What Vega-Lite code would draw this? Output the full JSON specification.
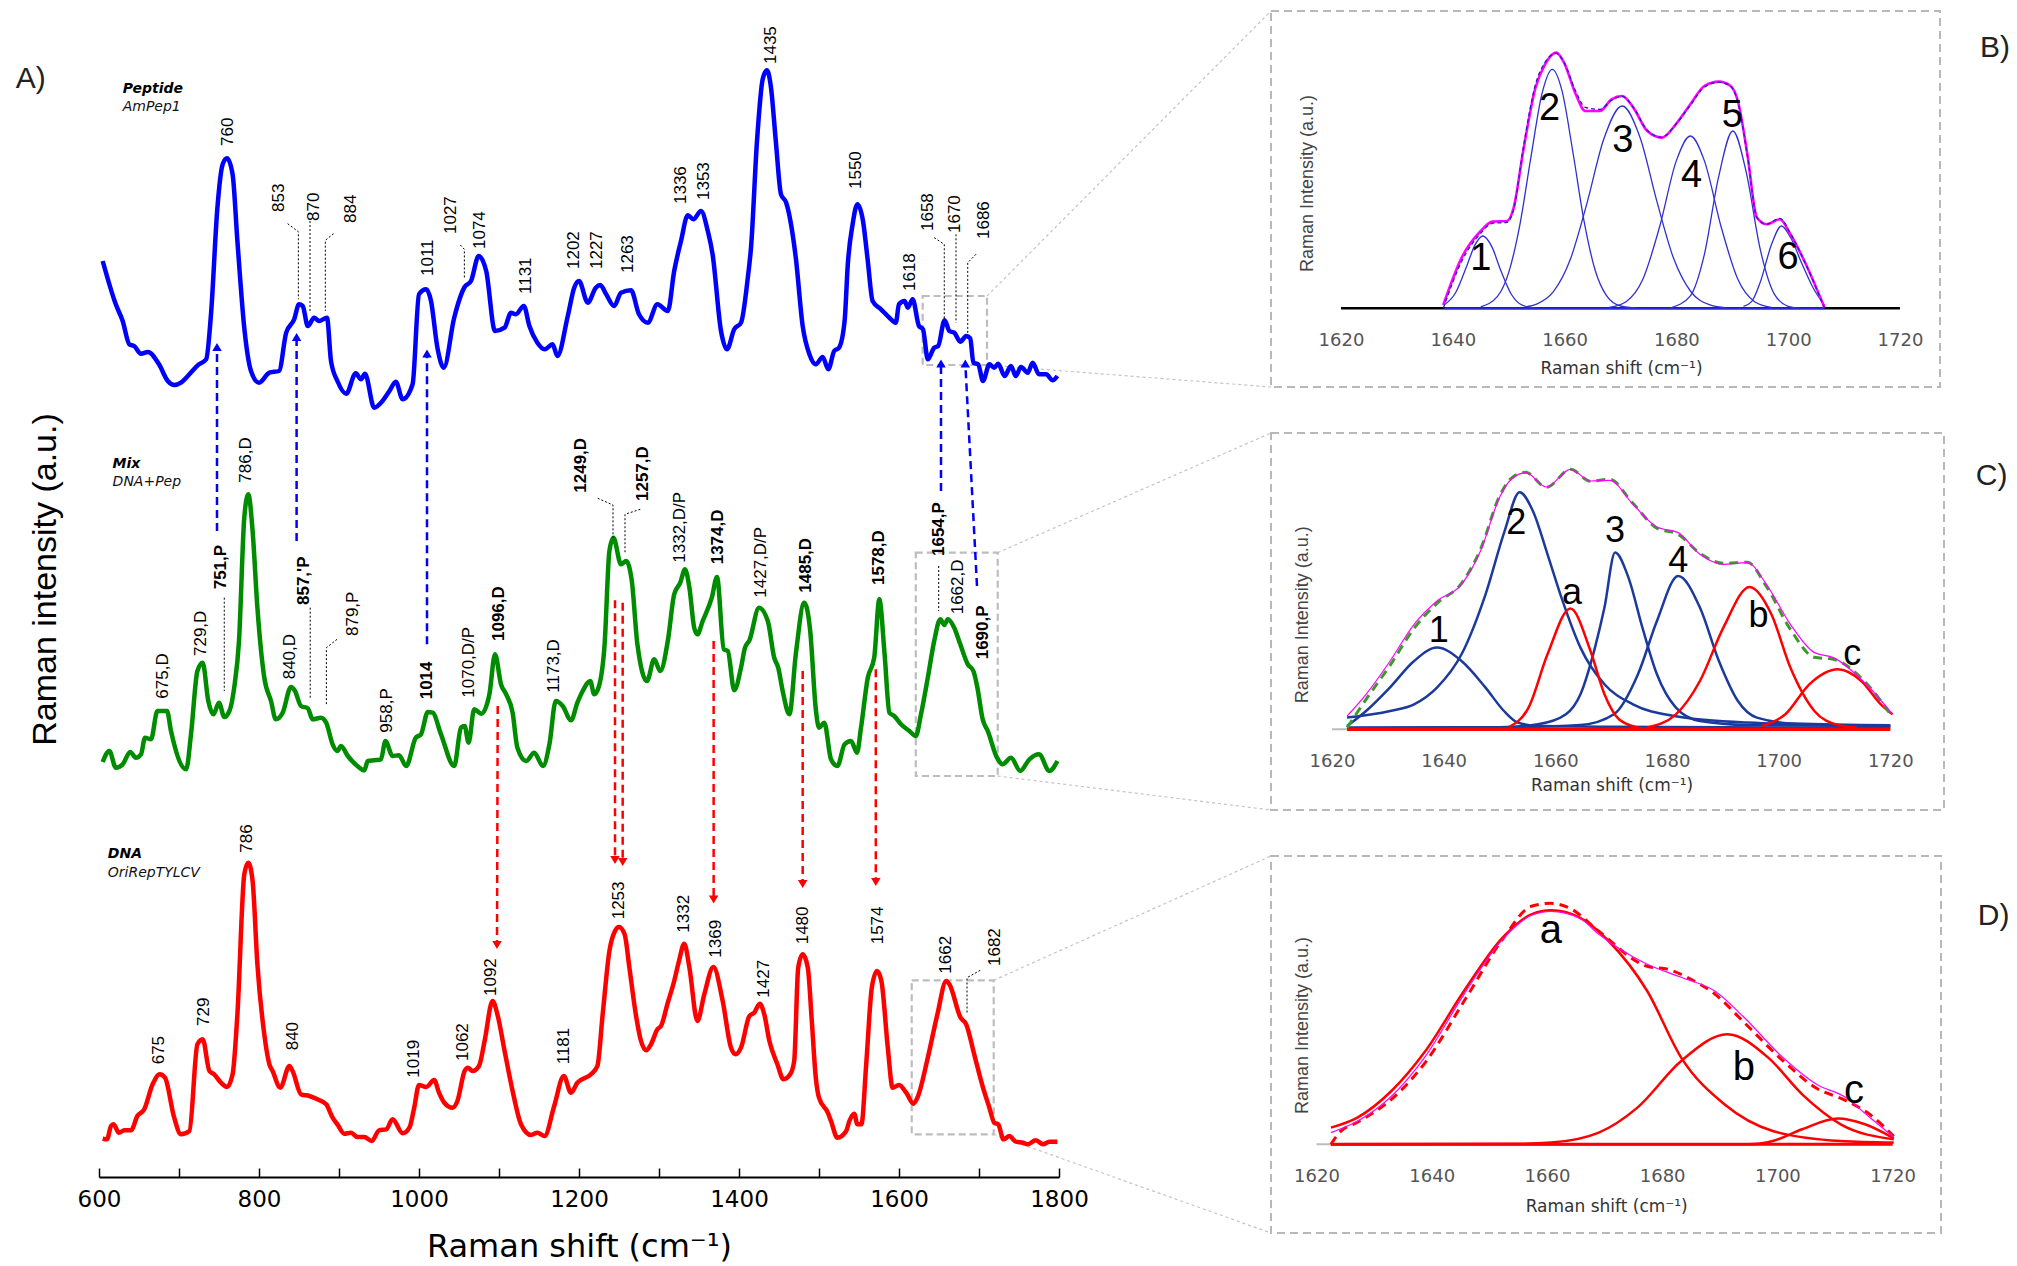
{
"$schema": "https://vega.github.io/schema/vega-lite/v6.json",
"background": "white",
"padding": {"left": 15, "top": 10, "right": 5, "bottom": 2},
"bounds": "flush",
"spacing": 212,
"config": {"font": "Liberation Sans", "axis": {"grid": false}},
"datasets": {
"spec": [
{"s":"Peptide","x":604.6,"y":916},{"s":"Peptide","x":621,"y":872.7},{"s":"Peptide","x":629.6,"y":856},{"s":"Peptide","x":638,"y":832.7},{"s":"Peptide","x":644,"y":831},{"s":"Peptide","x":652.5,"y":823.3},{"s":"Peptide","x":661,"y":825},{"s":"Peptide","x":675,"y":812.7},{"s":"Peptide","x":686,"y":796},{"s":"Peptide","x":694,"y":792},{"s":"Peptide","x":702.5,"y":794.3},{"s":"Peptide","x":711,"y":801},{"s":"Peptide","x":725,"y":812.7},{"s":"Peptide","x":734,"y":817.7},{"s":"Peptide","x":740,"y":862.7},{"s":"Peptide","x":748,"y":969.3},{"s":"Peptide","x":754.6,"y":1012.7},{"s":"Peptide","x":760,"y":1018.7},{"s":"Peptide","x":767,"y":1002.7},{"s":"Peptide","x":773,"y":936},{"s":"Peptide","x":782,"y":846},{"s":"Peptide","x":790,"y":806},{"s":"Peptide","x":800,"y":794.3},{"s":"Peptide","x":813,"y":804.3},{"s":"Peptide","x":825,"y":806},{"s":"Peptide","x":834,"y":844.3},{"s":"Peptide","x":844,"y":857.7},{"s":"Peptide","x":850,"y":872.7},{"s":"Peptide","x":854.6,"y":871},{"s":"Peptide","x":861,"y":851},{"s":"Peptide","x":869,"y":859.3},{"s":"Peptide","x":875,"y":856},{"s":"Peptide","x":885,"y":859.3},{"s":"Peptide","x":890,"y":816},{"s":"Peptide","x":898,"y":796},{"s":"Peptide","x":909,"y":783.3},{"s":"Peptide","x":921,"y":803.7},{"s":"Peptide","x":927.5,"y":797.7},{"s":"Peptide","x":932.5,"y":803.3},{"s":"Peptide","x":944,"y":769.3},{"s":"Peptide","x":952.5,"y":774.3},{"s":"Peptide","x":963,"y":786},{"s":"Peptide","x":971,"y":795.3},{"s":"Peptide","x":979.6,"y":777.7},{"s":"Peptide","x":992,"y":792.7},{"s":"Peptide","x":1000,"y":882.7},{"s":"Peptide","x":1009,"y":887.7},{"s":"Peptide","x":1015,"y":876},{"s":"Peptide","x":1023,"y":829.3},{"s":"Peptide","x":1031,"y":809.3},{"s":"Peptide","x":1044,"y":859.3},{"s":"Peptide","x":1057,"y":890},{"s":"Peptide","x":1065,"y":896},{"s":"Peptide","x":1074.6,"y":921},{"s":"Peptide","x":1084,"y":906},{"s":"Peptide","x":1095,"y":846},{"s":"Peptide","x":1107,"y":849.3},{"s":"Peptide","x":1115,"y":864.3},{"s":"Peptide","x":1121,"y":862.7},{"s":"Peptide","x":1131,"y":871},{"s":"Peptide","x":1138,"y":851},{"s":"Peptide","x":1148,"y":834.3},{"s":"Peptide","x":1157,"y":827.7},{"s":"Peptide","x":1167,"y":832.7},{"s":"Peptide","x":1173,"y":821},{"s":"Peptide","x":1186,"y":861},{"s":"Peptide","x":1194,"y":889.3},{"s":"Peptide","x":1200,"y":896},{"s":"Peptide","x":1211,"y":874.3},{"s":"Peptide","x":1221,"y":889.3},{"s":"Peptide","x":1226.6,"y":892},{"s":"Peptide","x":1234,"y":882.7},{"s":"Peptide","x":1244,"y":871},{"s":"Peptide","x":1252.5,"y":884.3},{"s":"Peptide","x":1265,"y":886.7},{"s":"Peptide","x":1275,"y":862.7},{"s":"Peptide","x":1286,"y":854.3},{"s":"Peptide","x":1298,"y":872.7},{"s":"Peptide","x":1311,"y":866},{"s":"Peptide","x":1319,"y":906},{"s":"Peptide","x":1327.5,"y":936},{"s":"Peptide","x":1336,"y":961.7},{"s":"Peptide","x":1343,"y":957.7},{"s":"Peptide","x":1352.5,"y":966},{"s":"Peptide","x":1361,"y":946},{"s":"Peptide","x":1367,"y":922.7},{"s":"Peptide","x":1377.5,"y":846},{"s":"Peptide","x":1385,"y":827.7},{"s":"Peptide","x":1394,"y":847.7},{"s":"Peptide","x":1402.5,"y":854.3},{"s":"Peptide","x":1411,"y":899.3},{"s":"Peptide","x":1415,"y":929.3},{"s":"Peptide","x":1422.5,"y":1036},{"s":"Peptide","x":1429.6,"y":1097.7},{"s":"Peptide","x":1435,"y":1106.7},{"s":"Peptide","x":1440,"y":1089.3},{"s":"Peptide","x":1446,"y":1036},{"s":"Peptide","x":1452.5,"y":982.7},{"s":"Peptide","x":1459,"y":974.3},{"s":"Peptide","x":1471,"y":919.3},{"s":"Peptide","x":1479.6,"y":851},{"s":"Peptide","x":1488,"y":822.7},{"s":"Peptide","x":1496,"y":812.7},{"s":"Peptide","x":1504.6,"y":820},{"s":"Peptide","x":1511.6,"y":807.7},{"s":"Peptide","x":1519,"y":826},{"s":"Peptide","x":1525,"y":829.3},{"s":"Peptide","x":1532,"y":856},{"s":"Peptide","x":1536,"y":912.7},{"s":"Peptide","x":1542,"y":952.7},{"s":"Peptide","x":1548,"y":972.7},{"s":"Peptide","x":1555,"y":956},{"s":"Peptide","x":1561,"y":916},{"s":"Peptide","x":1567,"y":876},{"s":"Peptide","x":1577.5,"y":867.7},{"s":"Peptide","x":1588,"y":859.3},{"s":"Peptide","x":1596,"y":854.3},{"s":"Peptide","x":1600,"y":872.7},{"s":"Peptide","x":1607,"y":876},{"s":"Peptide","x":1611,"y":869.3},{"s":"Peptide","x":1617,"y":877.7},{"s":"Peptide","x":1625,"y":851},{"s":"Peptide","x":1630,"y":847.7},{"s":"Peptide","x":1636,"y":817.7},{"s":"Peptide","x":1644,"y":829.3},{"s":"Peptide","x":1649,"y":831},{"s":"Peptide","x":1657,"y":856.7},{"s":"Peptide","x":1663,"y":846},{"s":"Peptide","x":1669,"y":844.3},{"s":"Peptide","x":1676.6,"y":835.3},{"s":"Peptide","x":1684,"y":841},{"s":"Peptide","x":1689,"y":838.7},{"s":"Peptide","x":1693,"y":814.3},{"s":"Peptide","x":1699,"y":812.7},{"s":"Peptide","x":1705,"y":796},{"s":"Peptide","x":1713,"y":812.7},{"s":"Peptide","x":1719,"y":809.3},{"s":"Peptide","x":1724,"y":813.3},{"s":"Peptide","x":1732,"y":801},{"s":"Peptide","x":1740,"y":811},{"s":"Peptide","x":1746,"y":801},{"s":"Peptide","x":1752.5,"y":810},{"s":"Peptide","x":1761,"y":804.3},{"s":"Peptide","x":1767,"y":814.3},{"s":"Peptide","x":1775,"y":802.7},{"s":"Peptide","x":1784,"y":802.7},{"s":"Peptide","x":1792,"y":796.7},{"s":"Peptide","x":1798,"y":801},
{"s":"Mix","x":604.6,"y":415},{"s":"Mix","x":613,"y":426},{"s":"Mix","x":621,"y":409.3},{"s":"Mix","x":629.6,"y":412.7},{"s":"Mix","x":639,"y":425},{"s":"Mix","x":646,"y":419.3},{"s":"Mix","x":652.5,"y":422.7},{"s":"Mix","x":657.5,"y":439.3},{"s":"Mix","x":665,"y":437.7},{"s":"Mix","x":673,"y":466},{"s":"Mix","x":685,"y":466},{"s":"Mix","x":690,"y":446},{"s":"Mix","x":709,"y":407.7},{"s":"Mix","x":715,"y":442.7},{"s":"Mix","x":723,"y":506},{"s":"Mix","x":729.6,"y":514.3},{"s":"Mix","x":736.6,"y":476},{"s":"Mix","x":743,"y":462.7},{"s":"Mix","x":750,"y":474.3},{"s":"Mix","x":756.6,"y":460},{"s":"Mix","x":763,"y":466},{"s":"Mix","x":769,"y":489.3},{"s":"Mix","x":775,"y":536},{"s":"Mix","x":781.6,"y":659.3},{"s":"Mix","x":786.6,"y":682.7},{"s":"Mix","x":792,"y":646},{"s":"Mix","x":798,"y":569.3},{"s":"Mix","x":806.6,"y":499.3},{"s":"Mix","x":815,"y":476},{"s":"Mix","x":821,"y":457.7},{"s":"Mix","x":829.6,"y":464.3},{"s":"Mix","x":840,"y":490},{"s":"Mix","x":845,"y":486},{"s":"Mix","x":852.5,"y":471},{"s":"Mix","x":861,"y":468.7},{"s":"Mix","x":867,"y":457.7},{"s":"Mix","x":877.5,"y":459.3},{"s":"Mix","x":884,"y":454.3},{"s":"Mix","x":892,"y":432.7},{"s":"Mix","x":898,"y":426},{"s":"Mix","x":902.5,"y":431},{"s":"Mix","x":911,"y":421},{"s":"Mix","x":923,"y":411},{"s":"Mix","x":931.6,"y":406.7},{"s":"Mix","x":936,"y":416},{"s":"Mix","x":944,"y":416.7},{"s":"Mix","x":952.5,"y":417.7},{"s":"Mix","x":958,"y":436},{"s":"Mix","x":967,"y":421},{"s":"Mix","x":975,"y":421.7},{"s":"Mix","x":984,"y":411},{"s":"Mix","x":996,"y":439.3},{"s":"Mix","x":1002.5,"y":442.7},{"s":"Mix","x":1011,"y":465},{"s":"Mix","x":1017,"y":464.3},{"s":"Mix","x":1027.5,"y":442.7},{"s":"Mix","x":1044,"y":411},{"s":"Mix","x":1052.5,"y":449.3},{"s":"Mix","x":1057,"y":451},{"s":"Mix","x":1062,"y":434.3},{"s":"Mix","x":1069,"y":467.7},{"s":"Mix","x":1078,"y":463.3},{"s":"Mix","x":1088,"y":482.7},{"s":"Mix","x":1095,"y":522.7},{"s":"Mix","x":1102.5,"y":492.7},{"s":"Mix","x":1109,"y":482.7},{"s":"Mix","x":1117,"y":464.3},{"s":"Mix","x":1123,"y":429.3},{"s":"Mix","x":1134,"y":416},{"s":"Mix","x":1144,"y":424.3},{"s":"Mix","x":1155,"y":411},{"s":"Mix","x":1163,"y":432.7},{"s":"Mix","x":1171,"y":476},{"s":"Mix","x":1179.6,"y":471},{"s":"Mix","x":1190,"y":456.7},{"s":"Mix","x":1198,"y":474.3},{"s":"Mix","x":1204.6,"y":486},{"s":"Mix","x":1214,"y":496},{"s":"Mix","x":1219,"y":482.7},{"s":"Mix","x":1225,"y":491},{"s":"Mix","x":1232,"y":532.7},{"s":"Mix","x":1238,"y":626},{"s":"Mix","x":1243,"y":639.3},{"s":"Mix","x":1252.5,"y":612.7},{"s":"Mix","x":1259,"y":616},{"s":"Mix","x":1266,"y":596},{"s":"Mix","x":1273,"y":532.7},{"s":"Mix","x":1285,"y":496},{"s":"Mix","x":1294,"y":517.7},{"s":"Mix","x":1301.6,"y":506},{"s":"Mix","x":1311,"y":536},{"s":"Mix","x":1319,"y":582.7},{"s":"Mix","x":1326.6,"y":594.3},{"s":"Mix","x":1332.5,"y":607.7},{"s":"Mix","x":1338,"y":589.3},{"s":"Mix","x":1344,"y":549.3},{"s":"Mix","x":1348,"y":542.7},{"s":"Mix","x":1354.6,"y":556},{"s":"Mix","x":1366,"y":579.3},{"s":"Mix","x":1372.5,"y":600},{"s":"Mix","x":1381,"y":527.7},{"s":"Mix","x":1386,"y":526},{"s":"Mix","x":1394,"y":486.7},{"s":"Mix","x":1402.5,"y":509.3},{"s":"Mix","x":1407.5,"y":529.3},{"s":"Mix","x":1413,"y":536.7},{"s":"Mix","x":1425,"y":569.3},{"s":"Mix","x":1436,"y":556},{"s":"Mix","x":1444,"y":519.3},{"s":"Mix","x":1449,"y":509.3},{"s":"Mix","x":1454.6,"y":486},{"s":"Mix","x":1463,"y":462.7},{"s":"Mix","x":1471,"y":522.7},{"s":"Mix","x":1481.6,"y":574.3},{"s":"Mix","x":1489,"y":546},{"s":"Mix","x":1496,"y":467.7},{"s":"Mix","x":1500,"y":449.3},{"s":"Mix","x":1506.6,"y":454.3},{"s":"Mix","x":1515,"y":417.7},{"s":"Mix","x":1523,"y":411},{"s":"Mix","x":1532,"y":432.7},{"s":"Mix","x":1540,"y":436},{"s":"Mix","x":1547.5,"y":424.3},{"s":"Mix","x":1552.5,"y":449.3},{"s":"Mix","x":1561,"y":499.3},{"s":"Mix","x":1569,"y":519.3},{"s":"Mix","x":1575.4,"y":577.7},{"s":"Mix","x":1582,"y":522.7},{"s":"Mix","x":1588,"y":464.3},{"s":"Mix","x":1594,"y":461},{"s":"Mix","x":1602.5,"y":452.7},{"s":"Mix","x":1613,"y":446},{"s":"Mix","x":1621,"y":441},{"s":"Mix","x":1627.5,"y":462.7},{"s":"Mix","x":1636,"y":499.3},{"s":"Mix","x":1644,"y":536},{"s":"Mix","x":1651.6,"y":557.7},{"s":"Mix","x":1656.6,"y":552},{"s":"Mix","x":1661,"y":557.7},{"s":"Mix","x":1669,"y":549.3},{"s":"Mix","x":1676.6,"y":532.7},{"s":"Mix","x":1686,"y":512.7},{"s":"Mix","x":1693,"y":506},{"s":"Mix","x":1698,"y":489.3},{"s":"Mix","x":1704.6,"y":457.7},{"s":"Mix","x":1711,"y":446},{"s":"Mix","x":1722.5,"y":419.3},{"s":"Mix","x":1729.6,"y":412.7},{"s":"Mix","x":1740,"y":419.3},{"s":"Mix","x":1751.6,"y":406},{"s":"Mix","x":1763,"y":417.7},{"s":"Mix","x":1775,"y":422.7},{"s":"Mix","x":1788,"y":406},{"s":"Mix","x":1798,"y":416},
{"s":"DNA","x":604.6,"y":38.3},{"s":"DNA","x":610,"y":37.7},{"s":"DNA","x":615,"y":51},{"s":"DNA","x":618,"y":52.7},{"s":"DNA","x":625,"y":44.3},{"s":"DNA","x":631.6,"y":46.7},{"s":"DNA","x":640,"y":46.7},{"s":"DNA","x":648,"y":61},{"s":"DNA","x":656.6,"y":67.7},{"s":"DNA","x":667,"y":92.7},{"s":"DNA","x":676,"y":102.7},{"s":"DNA","x":682.5,"y":99.3},{"s":"DNA","x":694,"y":59.3},{"s":"DNA","x":702.5,"y":42.7},{"s":"DNA","x":713,"y":46},{"s":"DNA","x":723,"y":132.7},{"s":"DNA","x":729.6,"y":137.7},{"s":"DNA","x":738,"y":106},{"s":"DNA","x":744,"y":102.7},{"s":"DNA","x":752.5,"y":94.3},{"s":"DNA","x":760,"y":90},{"s":"DNA","x":767,"y":102.7},{"s":"DNA","x":773,"y":162.7},{"s":"DNA","x":781.6,"y":302.7},{"s":"DNA","x":786.6,"y":314.3},{"s":"DNA","x":792,"y":296},{"s":"DNA","x":798,"y":212.7},{"s":"DNA","x":806.6,"y":142.7},{"s":"DNA","x":813,"y":112.7},{"s":"DNA","x":817,"y":106},{"s":"DNA","x":826.6,"y":89.3},{"s":"DNA","x":838,"y":111},{"s":"DNA","x":842,"y":106},{"s":"DNA","x":852.5,"y":82.7},{"s":"DNA","x":863,"y":81},{"s":"DNA","x":873,"y":77.7},{"s":"DNA","x":884,"y":72.7},{"s":"DNA","x":892,"y":59.3},{"s":"DNA","x":898,"y":52.7},{"s":"DNA","x":906.6,"y":43.3},{"s":"DNA","x":915,"y":44.3},{"s":"DNA","x":923,"y":40},{"s":"DNA","x":931.6,"y":40},{"s":"DNA","x":941,"y":36},{"s":"DNA","x":950,"y":46.7},{"s":"DNA","x":959,"y":47.7},{"s":"DNA","x":967,"y":57.7},{"s":"DNA","x":979.6,"y":43.7},{"s":"DNA","x":988,"y":49.3},{"s":"DNA","x":994,"y":69.3},{"s":"DNA","x":1000,"y":92},{"s":"DNA","x":1009,"y":90},{"s":"DNA","x":1019,"y":97},{"s":"DNA","x":1025,"y":84.3},{"s":"DNA","x":1031.6,"y":74.3},{"s":"DNA","x":1042,"y":69.3},{"s":"DNA","x":1048,"y":76},{"s":"DNA","x":1057,"y":106},{"s":"DNA","x":1061,"y":109.3},{"s":"DNA","x":1067,"y":106},{"s":"DNA","x":1075,"y":111},{"s":"DNA","x":1082,"y":136},{"s":"DNA","x":1092,"y":176},{"s":"DNA","x":1098,"y":162.7},{"s":"DNA","x":1107,"y":126},{"s":"DNA","x":1117,"y":86},{"s":"DNA","x":1127.5,"y":52.7},{"s":"DNA","x":1140,"y":42},{"s":"DNA","x":1148,"y":44.3},{"s":"DNA","x":1157,"y":41},{"s":"DNA","x":1169,"y":71},{"s":"DNA","x":1181,"y":101},{"s":"DNA","x":1190,"y":84.3},{"s":"DNA","x":1198,"y":94.3},{"s":"DNA","x":1215,"y":102.7},{"s":"DNA","x":1223,"y":111},{"s":"DNA","x":1229.6,"y":162.7},{"s":"DNA","x":1238,"y":226},{"s":"DNA","x":1245,"y":246},{"s":"DNA","x":1250,"y":250},{"s":"DNA","x":1257,"y":242.7},{"s":"DNA","x":1263,"y":209.3},{"s":"DNA","x":1271,"y":162.7},{"s":"DNA","x":1277.5,"y":136},{"s":"DNA","x":1284,"y":126.7},{"s":"DNA","x":1290,"y":132.7},{"s":"DNA","x":1298,"y":147.7},{"s":"DNA","x":1302.5,"y":151},{"s":"DNA","x":1311,"y":174.3},{"s":"DNA","x":1319,"y":196},{"s":"DNA","x":1325,"y":216},{"s":"DNA","x":1331.6,"y":233.3},{"s":"DNA","x":1338,"y":209.3},{"s":"DNA","x":1348,"y":156},{"s":"DNA","x":1356.6,"y":182.7},{"s":"DNA","x":1368,"y":210},{"s":"DNA","x":1379.6,"y":176},{"s":"DNA","x":1390,"y":129.3},{"s":"DNA","x":1396,"y":122.7},{"s":"DNA","x":1402.5,"y":129.3},{"s":"DNA","x":1413,"y":161},{"s":"DNA","x":1419,"y":164.3},{"s":"DNA","x":1426,"y":173.3},{"s":"DNA","x":1431.6,"y":162.7},{"s":"DNA","x":1438,"y":136},{"s":"DNA","x":1448,"y":112.7},{"s":"DNA","x":1455.6,"y":97.7},{"s":"DNA","x":1464,"y":102.7},{"s":"DNA","x":1469,"y":116},{"s":"DNA","x":1474,"y":209.3},{"s":"DNA","x":1479.6,"y":222.7},{"s":"DNA","x":1486,"y":209.3},{"s":"DNA","x":1491,"y":156},{"s":"DNA","x":1496,"y":99.3},{"s":"DNA","x":1500,"y":79.3},{"s":"DNA","x":1511,"y":64.3},{"s":"DNA","x":1515,"y":56},{"s":"DNA","x":1523,"y":39.3},{"s":"DNA","x":1534,"y":46},{"s":"DNA","x":1538,"y":56},{"s":"DNA","x":1544,"y":63.3},{"s":"DNA","x":1548,"y":52.7},{"s":"DNA","x":1553,"y":52.7},{"s":"DNA","x":1559,"y":112.7},{"s":"DNA","x":1566,"y":189.3},{"s":"DNA","x":1572.5,"y":206},{"s":"DNA","x":1578,"y":196},{"s":"DNA","x":1586,"y":129.3},{"s":"DNA","x":1592,"y":89.3},{"s":"DNA","x":1600,"y":92},{"s":"DNA","x":1609,"y":84.3},{"s":"DNA","x":1618,"y":73.3},{"s":"DNA","x":1623,"y":79.3},{"s":"DNA","x":1636,"y":119.3},{"s":"DNA","x":1648,"y":162.7},{"s":"DNA","x":1659,"y":196},{"s":"DNA","x":1663,"y":192.7},{"s":"DNA","x":1677,"y":159.3},{"s":"DNA","x":1684,"y":152.7},{"s":"DNA","x":1694,"y":122.7},{"s":"DNA","x":1705,"y":89.3},{"s":"DNA","x":1713,"y":69.3},{"s":"DNA","x":1719,"y":54.3},{"s":"DNA","x":1724,"y":52.7},{"s":"DNA","x":1730.6,"y":37.7},{"s":"DNA","x":1738,"y":41},{"s":"DNA","x":1746,"y":35.3},{"s":"DNA","x":1755,"y":34.3},{"s":"DNA","x":1761,"y":32.7},{"s":"DNA","x":1771,"y":36.7},{"s":"DNA","x":1780,"y":32.7},{"s":"DNA","x":1788,"y":35.3},{"s":"DNA","x":1798,"y":35.3}
],
"lblN": [
{"x":761.6,"y":1031,"t":"760"},{"x":824.6,"y":965,"t":"853"},{"x":869,"y":956,"t":"870"},{"x":915,"y":954,"t":"884"},{"x":1010.8,"y":901,"t":"1011"},{"x":1040,"y":943,"t":"1027"},{"x":1076.6,"y":928,"t":"1074"},{"x":1133.7,"y":883,"t":"1131"},{"x":1194,"y":908,"t":"1202"},{"x":1223,"y":908,"t":"1227"},{"x":1261.6,"y":904,"t":"1263"},{"x":1327.5,"y":973,"t":"1336"},{"x":1355.8,"y":977,"t":"1353"},{"x":1440,"y":1113,"t":"1435"},{"x":1546,"y":988,"t":"1550"},{"x":1614,"y":886,"t":"1618"},{"x":1635.8,"y":946,"t":"1658"},{"x":1670,"y":944,"t":"1670"},{"x":1705.8,"y":938,"t":"1686"},
{"x":679.6,"y":478.3,"t":"675,D"},{"x":727.5,"y":521,"t":"729,D"},{"x":783.75,"y":694.3,"t":"786,D"},{"x":839.2,"y":497.7,"t":"840,D"},{"x":917,"y":541,"t":"879,P"},{"x":960,"y":444.3,"t":"958,P"},{"x":1063,"y":479.3,"t":"1070,D/P"},{"x":1169,"y":484.3,"t":"1173,D"},{"x":1326.6,"y":614.3,"t":"1332,D/P"},{"x":1427.5,"y":579.3,"t":"1427,D/P"},{"x":1673.3,"y":562.7,"t":"1662,D"},
{"x":675.4,"y":112.7,"t":"675"},{"x":731.6,"y":151,"t":"729"},{"x":785,"y":324.3,"t":"786"},{"x":842,"y":126.7,"t":"840"},{"x":993.4,"y":99.3,"t":"1019"},{"x":1054.6,"y":116,"t":"1062"},{"x":1090,"y":181,"t":"1092"},{"x":1181.6,"y":112.7,"t":"1181"},{"x":1250.4,"y":257.7,"t":"1253"},{"x":1331.6,"y":244.3,"t":"1332"},{"x":1371,"y":219.3,"t":"1369"},{"x":1430.8,"y":179.3,"t":"1427"},{"x":1479.6,"y":232.7,"t":"1480"},{"x":1573.3,"y":232.7,"t":"1574"},{"x":1658.75,"y":203.3,"t":"1662"},{"x":1720,"y":211,"t":"1682"}
],
"lblB": [
{"x":752.5,"y":587.7,"t":"751,P"},{"x":856.6,"y":572,"t":"857,'P"},{"x":1010,"y":477.7,"t":"1014"},{"x":1100.4,"y":536,"t":"1096,D"},{"x":1202.5,"y":684.3,"t":"1249,D"},{"x":1279.6,"y":676,"t":"1257,D"},{"x":1373.3,"y":612.7,"t":"1374,D"},{"x":1483.75,"y":584.3,"t":"1485,D"},{"x":1575.4,"y":592,"t":"1578,D"},{"x":1650.4,"y":621,"t":"1654,P"},{"x":1704.6,"y":517.7,"t":"1690,P"}
],
"lead": [
{"g":1,"o":1,"x":835.8,"y":953.3},{"g":1,"o":2,"x":849.2,"y":945.3},{"g":1,"o":3,"x":849.2,"y":877.7},
{"g":2,"o":1,"x":863.75,"y":956},{"g":2,"o":2,"x":863.75,"y":866},
{"g":3,"o":1,"x":893.3,"y":943.3},{"g":3,"o":2,"x":882.9,"y":936.7},{"g":3,"o":3,"x":882.9,"y":866},
{"g":4,"o":1,"x":1051.7,"y":932},{"g":4,"o":2,"x":1056.7,"y":927.7},{"g":4,"o":3,"x":1056.7,"y":897.7},
{"g":5,"o":1,"x":1644,"y":939.3},{"g":5,"o":2,"x":1656.6,"y":932.7},{"g":5,"o":3,"x":1656.6,"y":857.7},
{"g":6,"o":1,"x":1671.25,"y":942.7},{"g":6,"o":2,"x":1671.25,"y":854.3},
{"g":7,"o":1,"x":1696.25,"y":922.7},{"g":7,"o":2,"x":1685.9,"y":914.3},{"g":7,"o":3,"x":1685.9,"y":842.7},
{"g":8,"o":1,"x":756.6,"y":579.3},{"g":8,"o":2,"x":756.6,"y":486},
{"g":9,"o":1,"x":864,"y":569.3},{"g":9,"o":2,"x":864,"y":479.3},
{"g":10,"o":1,"x":897.5,"y":537.7},{"g":10,"o":2,"x":884.2,"y":529.3},{"g":10,"o":3,"x":884.2,"y":472.7},
{"g":11,"o":1,"x":1223.4,"y":678.7},{"g":11,"o":2,"x":1242.5,"y":672},{"g":11,"o":3,"x":1242.5,"y":639.3},
{"g":12,"o":1,"x":1276.6,"y":667.7},{"g":12,"o":2,"x":1257.5,"y":662.7},{"g":12,"o":3,"x":1257.5,"y":624.3},
{"g":13,"o":1,"x":1649.6,"y":611},{"g":13,"o":2,"x":1649.6,"y":566},
{"g":14,"o":1,"x":1701.6,"y":206.7},{"g":14,"o":2,"x":1685,"y":199.3},{"g":14,"o":3,"x":1685,"y":162.7}
],
"arrB": [
{"x":747.5,"y":646,"x2":747.5,"y2":830},{"x":847,"y":636,"x2":847,"y2":840},{"x":1010,"y":532.7,"x2":1010,"y2":823.5},{"x":1652.5,"y":686,"x2":1652.5,"y2":813.5},{"x":1697.5,"y":591,"x2":1682.9,"y2":813.5}
],
"headB": [
{"x":747.5,"y":830},{"x":847,"y":840},{"x":1010,"y":823.5},{"x":1652.5,"y":813.5},{"x":1682.9,"y":813.5}
],
"arrR": [
{"x":1098.4,"y":471,"x2":1097.5,"y2":232},{"x":1245,"y":576.7,"x2":1245,"y2":317},{"x":1254.6,"y":574.3,"x2":1254.6,"y2":315},{"x":1368.3,"y":536,"x2":1368.3,"y2":277.5},{"x":1479.6,"y":506,"x2":1479.6,"y2":293},{"x":1571,"y":507.7,"x2":1571,"y2":295}
],
"headR": [
{"x":1097.5,"y":232},{"x":1245,"y":317},{"x":1254.6,"y":315},{"x":1368.3,"y":277.5},{"x":1479.6,"y":293},{"x":1571,"y":295}
],
"boxes": [
{"x":1629.6,"x2":1710,"y":812,"y2":881},{"x":1621,"x2":1723.4,"y":401,"y2":624.3},{"x":1615.9,"x2":1718.4,"y":42.7,"y2":196.7}
],
"conn": [
{"x":1710,"y":881,"x2":2065,"y2":1166},{"x":1710,"y":812,"x2":2065,"y2":790},
{"x":1723.4,"y":624.3,"x2":2065,"y2":744},{"x":1723.4,"y":401,"x2":2065,"y2":367},
{"x":1718.4,"y":196.7,"x2":2065,"y2":321},{"x":1718.4,"y":42.7,"x2":2065,"y2":-56}
],
"namesB": [{"x":629.6,"y":1088,"t":"Peptide"},{"x":617,"y":713,"t":"Mix"},{"x":611,"y":323,"t":"DNA"}],
"namesI": [{"x":629.6,"y":1070,"t":"AmPep1"},{"x":617,"y":695,"t":"DNA+Pep"},{"x":611,"y":304,"t":"OriRepTYLCV"}],
"panelA": [{"x":496,"y":1098,"t":"A)"}],
"bBase": [{"x":1620,"x2":1720,"y":0}],
"bBase2": [{"x":1638.5,"x2":1706.5,"y":0}],
"bComp": [
{"c":"1","x":1638.5,"y":3.5},{"c":"1","x":1640.5,"y":15.6},{"c":"1","x":1642.5,"y":42.3},{"c":"1","x":1644,"y":63.7},{"c":"1","x":1645.4,"y":72.3},{"c":"1","x":1647,"y":61.4},{"c":"1","x":1648.5,"y":39.1},{"c":"1","x":1650.5,"y":13.8},{"c":"1","x":1652.5,"y":2.9},{"c":"1","x":1655,"y":0.2},
{"c":"2","x":1645,"y":1.5},{"c":"2","x":1648,"y":11.9},{"c":"2","x":1650,"y":35.7},{"c":"2","x":1652,"y":83.5},{"c":"2","x":1654,"y":152},{"c":"2","x":1656,"y":215.6},{"c":"2","x":1657.8,"y":239},{"c":"2","x":1659.5,"y":218.4},{"c":"2","x":1661.5,"y":155.8},{"c":"2","x":1663.5,"y":86.6},{"c":"2","x":1665.5,"y":37.5},{"c":"2","x":1667.5,"y":12.6},{"c":"2","x":1670,"y":2.3},{"c":"2","x":1673,"y":0.2},
{"c":"3","x":1653,"y":1.5},{"c":"3","x":1655,"y":4.2},{"c":"3","x":1658,"y":16.6},{"c":"3","x":1661,"y":48.5},{"c":"3","x":1664,"y":105},{"c":"3","x":1667,"y":169},{"c":"3","x":1670.3,"y":202.3},{"c":"3","x":1673.5,"y":170.8},{"c":"3","x":1676.5,"y":107.2},{"c":"3","x":1679.5,"y":50},{"c":"3","x":1682.5,"y":17.3},{"c":"3","x":1686,"y":3.4},{"c":"3","x":1689,"y":0.5},
{"c":"4","x":1668,"y":0.8},{"c":"4","x":1671,"y":6.6},{"c":"4","x":1674,"y":29},{"c":"4","x":1677,"y":81.6},{"c":"4","x":1680,"y":147.7},{"c":"4","x":1682.5,"y":172.3},{"c":"4","x":1685,"y":147.7},{"c":"4","x":1688,"y":81.6},{"c":"4","x":1691,"y":29},{"c":"4","x":1694,"y":6.6},{"c":"4","x":1697,"y":0.8},
{"c":"5","x":1679,"y":0.5},{"c":"5","x":1682.5,"y":12.5},{"c":"5","x":1685,"y":53.7},{"c":"5","x":1687.5,"y":130},{"c":"5","x":1690.1,"y":177.3},{"c":"5","x":1692.5,"y":136},{"c":"5","x":1695,"y":59},{"c":"5","x":1697.5,"y":14.4},{"c":"5","x":1700,"y":2},{"c":"5","x":1702,"y":0.2},
{"c":"6","x":1692,"y":2},{"c":"6","x":1693.5,"y":7},{"c":"6","x":1695,"y":26},{"c":"6","x":1697,"y":63.5},{"c":"6","x":1698.8,"y":82.3},{"c":"6","x":1700.5,"y":70},{"c":"6","x":1702.5,"y":44},{"c":"6","x":1704.5,"y":20},{"c":"6","x":1706.5,"y":3}
],
"bEnv": [
{"x":1638.3,"y":3.3},{"x":1641.6,"y":50.7},{"x":1645,"y":77.3},{"x":1647.1,"y":86.7},{"x":1649.7,"y":87.3},{"x":1650.9,"y":100.7},{"x":1652.6,"y":157.3},{"x":1654.8,"y":220.7},{"x":1656.5,"y":244},{"x":1658.5,"y":255.7},{"x":1659.9,"y":245.7},{"x":1662,"y":214},{"x":1663.7,"y":197.3},{"x":1666.3,"y":197.3},{"x":1668.4,"y":209},{"x":1670.3,"y":212.3},{"x":1672.3,"y":200.7},{"x":1674.8,"y":177.3},{"x":1677.4,"y":170.7},{"x":1679.9,"y":184},{"x":1682.5,"y":204},{"x":1685,"y":222.3},{"x":1687.6,"y":226.7},{"x":1689.7,"y":222.3},{"x":1691,"y":207.3},{"x":1692.7,"y":154},{"x":1694.4,"y":90.7},{"x":1696.1,"y":84},{"x":1698.5,"y":89},{"x":1700.4,"y":74},{"x":1702.9,"y":47.3},{"x":1706.5,"y":0.7}
],
"bDat": [
{"x":1638.3,"y":0},{"x":1641.6,"y":47},{"x":1645,"y":75},{"x":1647.1,"y":85},{"x":1649.7,"y":86},{"x":1650.9,"y":99},{"x":1652.6,"y":160},{"x":1654.8,"y":224},{"x":1656.5,"y":246},{"x":1658.5,"y":255},{"x":1659.9,"y":246},{"x":1662,"y":217},{"x":1663.7,"y":201},{"x":1666.3,"y":199},{"x":1668.4,"y":208},{"x":1670.3,"y":212},{"x":1672.3,"y":201},{"x":1674.8,"y":178},{"x":1677.4,"y":171},{"x":1679.9,"y":184},{"x":1682.5,"y":203},{"x":1685,"y":221},{"x":1687.6,"y":226},{"x":1689.7,"y":222},{"x":1691,"y":206},{"x":1692.7,"y":153},{"x":1694.4,"y":91},{"x":1696.1,"y":84},{"x":1698.5,"y":90},{"x":1700.4,"y":75},{"x":1702.9,"y":47},{"x":1706.5,"y":0}
],
"bLbl": [{"x":1645,"y":49,"t":"1"},{"x":1657.3,"y":199,"t":"2"},{"x":1670.4,"y":167.3,"t":"3"},{"x":1682.7,"y":132.3,"t":"4"},{"x":1690,"y":192.3,"t":"5"},{"x":1700,"y":50.7,"t":"6"}],
"bTag": [{"x":1734.3,"y":260.3,"t":"B)"}],
"cBase": [{"x":1620,"x2":1720,"y":0}],
"cBase2": [{"x":1622.7,"x2":1720,"y":0}],
"cCompP": [
{"c":"1","x":1622.7,"y":3.3},{"c":"1","x":1626.1,"y":18.3},{"c":"1","x":1630.4,"y":42},{"c":"1","x":1634.7,"y":68.3},{"c":"1","x":1638.8,"y":81.7},{"c":"1","x":1643.2,"y":68.3},{"c":"1","x":1647.5,"y":41.7},{"c":"1","x":1650.8,"y":18.3},{"c":"1","x":1653.3,"y":6.7},{"c":"1","x":1657,"y":3.5},{"c":"1","x":1670,"y":2.5},{"c":"1","x":1690,"y":2},{"c":"1","x":1720,"y":1.5},
{"c":"2","x":1622.7,"y":11.7},{"c":"2","x":1630.4,"y":18.3},{"c":"2","x":1634.7,"y":25},{"c":"2","x":1638.8,"y":41.7},{"c":"2","x":1643.2,"y":75},{"c":"2","x":1647.5,"y":135},{"c":"2","x":1650.9,"y":198},{"c":"2","x":1653.6,"y":237},{"c":"2","x":1656,"y":218},{"c":"2","x":1658.6,"y":175},{"c":"2","x":1661.1,"y":131.7},{"c":"2","x":1664.5,"y":81.7},{"c":"2","x":1668.8,"y":45},{"c":"2","x":1673.9,"y":25},{"c":"2","x":1681.3,"y":13.3},{"c":"2","x":1694.4,"y":6.7},{"c":"2","x":1720,"y":3.3},
{"c":"3","x":1622.7,"y":1.5},{"c":"3","x":1650,"y":2},{"c":"3","x":1656.9,"y":5},{"c":"3","x":1661.9,"y":15},{"c":"3","x":1664.5,"y":35},{"c":"3","x":1667.1,"y":81.7},{"c":"3","x":1668.8,"y":121.7},{"c":"3","x":1670.7,"y":176.7},{"c":"3","x":1673.1,"y":151.7},{"c":"3","x":1675.6,"y":101.7},{"c":"3","x":1678.2,"y":55},{"c":"3","x":1681.6,"y":21.7},{"c":"3","x":1685.9,"y":8.3},{"c":"3","x":1694.4,"y":4.3},{"c":"3","x":1720,"y":3.3},
{"c":"4","x":1622.7,"y":1.5},{"c":"4","x":1650,"y":2},{"c":"4","x":1664.5,"y":4.3},{"c":"4","x":1670.5,"y":15},{"c":"4","x":1674.8,"y":55},{"c":"4","x":1678.2,"y":108.3},{"c":"4","x":1682,"y":153.3},{"c":"4","x":1685.9,"y":121.7},{"c":"4","x":1689.3,"y":68.3},{"c":"4","x":1692.7,"y":28.3},{"c":"4","x":1696.1,"y":11.7},{"c":"4","x":1702.9,"y":5.7},{"c":"4","x":1720,"y":4}
],
"cCompD": [
{"c":"a","x":1651.7,"y":2.3},{"c":"a","x":1655.2,"y":21.7},{"c":"a","x":1658.6,"y":75},{"c":"a","x":1662.7,"y":120.7},{"c":"a","x":1666.3,"y":78.3},{"c":"a","x":1668.8,"y":35},{"c":"a","x":1671.4,"y":10},{"c":"a","x":1674.8,"y":1.7},{"c":"a","x":1676.5,"y":0},
{"c":"b","x":1676.4,"y":1.7},{"c":"b","x":1681.6,"y":15},{"c":"b","x":1685.9,"y":48.3},{"c":"b","x":1690.1,"y":101.7},{"c":"b","x":1694.8,"y":142.3},{"c":"b","x":1698.7,"y":115},{"c":"b","x":1702.1,"y":61.7},{"c":"b","x":1706.4,"y":18.3},{"c":"b","x":1710.6,"y":4.3},{"c":"b","x":1714,"y":1.7},
{"c":"c","x":1697,"y":3.3},{"c":"c","x":1701.2,"y":15},{"c":"c","x":1705.5,"y":45},{"c":"c","x":1710.6,"y":60},{"c":"c","x":1714.8,"y":48.3},{"c":"c","x":1718.3,"y":25},{"c":"c","x":1720.4,"y":15}
],
"cEnv": [
{"x":1622.7,"y":13.3},{"x":1626.1,"y":35},{"x":1630.4,"y":68.3},{"x":1634.7,"y":105},{"x":1638.8,"y":128.3},{"x":1643.2,"y":145},{"x":1646.6,"y":178.3},{"x":1650,"y":231.7},{"x":1652.1,"y":250},{"x":1654.7,"y":256.7},{"x":1658.4,"y":242.3},{"x":1662.7,"y":260},{"x":1666.3,"y":248.3},{"x":1669.7,"y":249},{"x":1673.9,"y":225},{"x":1678.2,"y":202.3},{"x":1682,"y":196.7},{"x":1685.9,"y":175},{"x":1690.1,"y":165},{"x":1694.4,"y":166.7},{"x":1697.8,"y":145},{"x":1702.1,"y":105},{"x":1706.4,"y":76.7},{"x":1709.8,"y":71.7},{"x":1715.7,"y":45},{"x":1720.4,"y":15}
],
"cDat": [
{"x":1622.7,"y":1.7},{"x":1626.1,"y":30},{"x":1630.4,"y":64},{"x":1634.7,"y":101},{"x":1638.8,"y":126},{"x":1643.2,"y":146},{"x":1646.6,"y":180},{"x":1650,"y":233},{"x":1652.1,"y":251},{"x":1654.7,"y":257},{"x":1658.4,"y":242},{"x":1662.7,"y":260},{"x":1666.3,"y":248},{"x":1669.7,"y":250},{"x":1673.9,"y":226},{"x":1678.2,"y":201},{"x":1682,"y":195},{"x":1685.9,"y":176},{"x":1690.1,"y":166},{"x":1694.4,"y":167},{"x":1697.8,"y":143},{"x":1702.1,"y":100},{"x":1706.4,"y":72},{"x":1709.8,"y":70},{"x":1715.7,"y":46},{"x":1720.4,"y":12}
],
"cLbl": [{"x":1639.1,"y":98.3,"t":"1"},{"x":1653,"y":206.7,"t":"2"},{"x":1670.7,"y":198.3,"t":"3"},{"x":1682,"y":168.3,"t":"4"},{"x":1663,"y":136.7,"t":"a"},{"x":1696.4,"y":113.3,"t":"b"},{"x":1713.2,"y":75,"t":"c"}],
"cTag": [{"x":1735.3,"y":253.3,"t":"C)"}],
"dBase": [{"x":1620,"x2":1720,"y":0}],
"dBase2": [{"x":1622.5,"x2":1720,"y":0}],
"dComp": [
{"c":"a","x":1622.5,"y":16.7},{"c":"a","x":1627.1,"y":26.7},{"c":"a","x":1633,"y":53.3},{"c":"a","x":1638.9,"y":93.3},{"c":"a","x":1645.6,"y":153.3},{"c":"a","x":1652.3,"y":206.7},{"c":"a","x":1657.3,"y":230},{"c":"a","x":1660.7,"y":234},{"c":"a","x":1665.7,"y":226.7},{"c":"a","x":1670.7,"y":203.3},{"c":"a","x":1677.4,"y":153.3},{"c":"a","x":1683.3,"y":86.7},{"c":"a","x":1690.8,"y":40},{"c":"a","x":1699.2,"y":13.3},{"c":"a","x":1711,"y":3.3},{"c":"a","x":1720.2,"y":1.7},
{"c":"b","x":1622.5,"y":0},{"c":"b","x":1655,"y":0.5},{"c":"b","x":1660.7,"y":1.7},{"c":"b","x":1669,"y":11.7},{"c":"b","x":1675.7,"y":36.7},{"c":"b","x":1683.3,"y":83.3},{"c":"b","x":1691.3,"y":110},{"c":"b","x":1698.4,"y":86.7},{"c":"b","x":1704.3,"y":50},{"c":"b","x":1711,"y":20},{"c":"b","x":1720.2,"y":5},
{"c":"c","x":1622.5,"y":0},{"c":"c","x":1695,"y":0},{"c":"c","x":1699.2,"y":3.3},{"c":"c","x":1704.3,"y":15},{"c":"c","x":1710.5,"y":25.7},{"c":"c","x":1715.2,"y":20},{"c":"c","x":1720.2,"y":6}
],
"dEnv": [
{"x":1622.5,"y":11.7},{"x":1627.1,"y":23},{"x":1633,"y":48},{"x":1638.9,"y":88},{"x":1645.6,"y":150},{"x":1652.3,"y":205},{"x":1657.3,"y":229},{"x":1660.7,"y":233},{"x":1665.7,"y":226},{"x":1669,"y":210},{"x":1677.4,"y":180},{"x":1683.3,"y":167},{"x":1689.2,"y":153},{"x":1694.2,"y":127},{"x":1700.9,"y":87},{"x":1706.8,"y":60},{"x":1711.8,"y":47},{"x":1716,"y":27},{"x":1720.2,"y":7}
],
"dDat": [
{"x":1622.5,"y":0},{"x":1624,"y":12},{"x":1627.1,"y":22},{"x":1633,"y":45},{"x":1638.9,"y":82},{"x":1645.6,"y":143},{"x":1652.3,"y":205},{"x":1657.3,"y":238},{"x":1660.7,"y":241},{"x":1664,"y":236},{"x":1669,"y":213},{"x":1677.4,"y":178},{"x":1681,"y":175},{"x":1685,"y":165},{"x":1689.2,"y":150},{"x":1694.2,"y":122},{"x":1700.9,"y":84},{"x":1706.8,"y":56},{"x":1711.8,"y":44},{"x":1716,"y":30},{"x":1720.2,"y":8}
],
"dLbl": [{"x":1660.7,"y":213.3,"t":"a"},{"x":1694.2,"y":76.7,"t":"b"},{"x":1713.3,"y":53.3,"t":"c"}],
"dTag": [{"x":1734.8,"y":228.3,"t":"D)"}]
},
"hconcat": [
{
"width": 960, "height": 1166,
"view": {"stroke": null},
"encoding": {
 "x": {"field": "x", "type": "quantitative", "scale": {"domain": [600, 1800], "nice": false, "zero": false},
  "axis": {"values": [600,700,800,900,1000,1100,1200,1300,1400,1500,1600,1700,1800], "format": "d",
   "labelExpr": "datum.value % 200 === 0 ? datum.label : ''", "labelFlush": false, "labelOverlap": false,
   "tickSize": -9, "tickWidth": 1.5, "tickColor": "black", "domainColor": "black", "domainWidth": 2,
   "labelFont": "DejaVu Sans", "labelFontSize": 23, "labelColor": "black", "labelPadding": 20,
   "title": "Raman shift (cm⁻¹)", "titleFont": "DejaVu Sans", "titleFontSize": 32, "titleFontWeight": "normal", "titleColor": "black", "titlePadding": 20}},
 "y": {"field": "y", "type": "quantitative", "scale": {"domain": [0, 1166], "nice": false, "zero": false},
  "axis": {"domain": false, "ticks": false, "labels": false, "title": "Raman intensity (a.u.)", "titleFont": "Liberation Sans", "titleFontSize": 34, "titleFontWeight": "normal", "titleColor": "black", "titleAngle": -90, "titleX": -54, "titleY": 568, "titleAlign": "center", "titleBaseline": "middle"}}
},
"layer": [
 {"data": {"name": "boxes"}, "mark": {"type": "rect", "fill": null, "fillOpacity": 0, "stroke": "#bdbdbd", "strokeWidth": 2.2, "strokeDash": [7, 4]}, "encoding": {"x2": {"field": "x2"}, "y2": {"field": "y2"}}},
 {"data": {"name": "conn"}, "mark": {"type": "rule", "color": "#c4c4c4", "strokeWidth": 1.2, "strokeDash": [3, 3]}, "encoding": {"x2": {"field": "x2"}, "y2": {"field": "y2"}}},
 {"data": {"name": "spec"}, "mark": {"type": "line", "strokeWidth": 4.5, "interpolate": "monotone"}, "encoding": {"color": {"field": "s", "type": "nominal", "scale": {"domain": ["Peptide", "Mix", "DNA"], "range": ["#0000ff", "#008c00", "#ff0000"]}, "legend": null}}},
 {"data": {"name": "lead"}, "mark": {"type": "line", "color": "black", "strokeWidth": 1, "strokeDash": [2, 2]}, "encoding": {"detail": {"field": "g"}, "order": {"field": "o"}}},
 {"data": {"name": "arrB"}, "mark": {"type": "rule", "color": "#0000ff", "strokeWidth": 2.5, "strokeDash": [8, 5]}, "encoding": {"x2": {"field": "x2"}, "y2": {"field": "y2"}}},
 {"data": {"name": "headB"}, "mark": {"type": "point", "shape": "triangle-up", "filled": true, "size": 90, "color": "#0000ff", "opacity": 1}},
 {"data": {"name": "arrR"}, "mark": {"type": "rule", "color": "#ff0000", "strokeWidth": 2.5, "strokeDash": [8, 5]}, "encoding": {"x2": {"field": "x2"}, "y2": {"field": "y2"}}},
 {"data": {"name": "headR"}, "mark": {"type": "point", "shape": "triangle-down", "filled": true, "size": 90, "color": "#ff0000", "opacity": 1}},
 {"data": {"name": "lblN"}, "mark": {"type": "text", "angle": 270, "align": "left", "baseline": "middle", "font": "Liberation Sans", "fontSize": 17, "color": "black"}, "encoding": {"text": {"field": "t"}}},
 {"data": {"name": "lblB"}, "mark": {"type": "text", "angle": 270, "align": "left", "baseline": "middle", "font": "Liberation Sans", "fontSize": 17, "fontWeight": "bold", "color": "black"}, "encoding": {"text": {"field": "t"}}},
 {"data": {"name": "namesB"}, "mark": {"type": "text", "align": "left", "baseline": "middle", "font": "DejaVu Sans", "fontSize": 14, "fontStyle": "italic", "fontWeight": "bold", "color": "black"}, "encoding": {"text": {"field": "t"}}},
 {"data": {"name": "namesI"}, "mark": {"type": "text", "align": "left", "baseline": "middle", "font": "DejaVu Sans", "fontSize": 14, "fontStyle": "italic", "color": "#111"}, "encoding": {"text": {"field": "t"}}},
 {"data": {"name": "panelA"}, "mark": {"type": "text", "align": "left", "baseline": "middle", "font": "Liberation Sans", "fontSize": 30, "color": "#222"}, "encoding": {"text": {"field": "t"}}},
 {"data": {"values": [{}]}, "mark": {"type": "rule", "color": "black", "strokeWidth": 2}, "encoding": {"x": {"datum": 600}, "y": {"datum": 0}, "y2": {"datum": 1107}}}
]
},
{
"vconcat": [
 {
 "width": 669, "height": 376,
 "view": {"stroke": "#b8b8b8", "strokeWidth": 2, "strokeDash": [8, 5]},
 "encoding": {
  "x": {"field": "x", "type": "quantitative", "scale": {"domain": [1607.48, 1727.16], "nice": false, "zero": false},
   "axis": {"values": [1620,1640,1660,1680,1700,1720], "format": "d", "domain": false, "ticks": false, "labelFlush": false, "offset": -78.7, "labelPadding": 32, "labelBaseline": "middle", "labelFont": "DejaVu Sans", "labelFontSize": 18, "labelColor": "#555",
    "title": "Raman shift (cm⁻¹)", "titleFont": "DejaVu Sans", "titleFontSize": 17, "titleFontWeight": "normal", "titleColor": "#333", "titleX": 350, "titleY": 60, "titleBaseline": "middle", "titleAlign": "center"}},
  "y": {"field": "y", "type": "quantitative", "scale": {"domain": [-78.7, 297.3], "nice": false, "zero": false},
   "axis": {"domain": false, "ticks": false, "labels": false, "title": "Raman Intensity (a.u.)", "titleFont": "Liberation Sans", "titleFontSize": 18, "titleFontWeight": "normal", "titleColor": "#444", "titleAngle": -90, "titleX": 36, "titleY": 172, "titleAlign": "center", "titleBaseline": "middle"}}
 },
 "layer": [
  {"data": {"name": "bBase"}, "mark": {"type": "rule", "color": "black", "strokeWidth": 2.5}, "encoding": {"x2": {"field": "x2"}}},
  {"data": {"name": "bBase2"}, "mark": {"type": "rule", "color": "#2a2ad8", "strokeWidth": 2}, "encoding": {"x2": {"field": "x2"}}},
  {"data": {"name": "bComp"}, "mark": {"type": "line", "color": "#3030d0", "strokeWidth": 1.3, "interpolate": "monotone"}, "encoding": {"detail": {"field": "c"}}},
  {"data": {"name": "bEnv"}, "mark": {"type": "line", "color": "#ff00ff", "strokeWidth": 2.6, "interpolate": "monotone"}},
  {"data": {"name": "bDat"}, "mark": {"type": "line", "color": "#2020c0", "strokeWidth": 1.3, "strokeDash": [4, 3], "interpolate": "monotone"}},
  {"data": {"name": "bLbl"}, "mark": {"type": "text", "align": "center", "baseline": "middle", "font": "Liberation Sans", "fontSize": 38, "color": "black"}, "encoding": {"text": {"field": "t"}}},
  {"data": {"name": "bTag"}, "mark": {"type": "text", "align": "left", "baseline": "middle", "font": "Liberation Sans", "fontSize": 30, "color": "#222"}, "encoding": {"text": {"field": "t"}}}
 ]
 },
 {
 "width": 673, "height": 377,
 "view": {"stroke": "#b8b8b8", "strokeWidth": 2, "strokeDash": [8, 5]},
 "encoding": {
  "x": {"field": "x", "type": "quantitative", "scale": {"domain": [1609.07, 1729.62], "nice": false, "zero": false},
   "axis": {"values": [1620,1640,1660,1680,1700,1720], "format": "d", "domain": false, "ticks": false, "labelFlush": false, "offset": -80.7, "labelPadding": 32, "labelBaseline": "middle", "labelFont": "DejaVu Sans", "labelFontSize": 18, "labelColor": "#555",
    "title": "Raman shift (cm⁻¹)", "titleFont": "DejaVu Sans", "titleFontSize": 17, "titleFontWeight": "normal", "titleColor": "#333", "titleX": 340.6, "titleY": 55.7, "titleBaseline": "middle", "titleAlign": "center"}},
  "y": {"field": "y", "type": "quantitative", "scale": {"domain": [-80.7, 296.3], "nice": false, "zero": false},
   "axis": {"domain": false, "ticks": false, "labels": false, "title": "Raman Intensity (a.u.)", "titleFont": "Liberation Sans", "titleFontSize": 18, "titleFontWeight": "normal", "titleColor": "#444", "titleAngle": -90, "titleX": 31, "titleY": 181.3, "titleAlign": "center", "titleBaseline": "middle"}}
 },
 "layer": [
  {"data": {"name": "cBase"}, "mark": {"type": "rule", "color": "#bdbdbd", "strokeWidth": 2}, "encoding": {"x2": {"field": "x2"}}},
  {"data": {"name": "cCompP"}, "mark": {"type": "line", "color": "#1c3a9c", "strokeWidth": 2.5, "interpolate": "monotone"}, "encoding": {"detail": {"field": "c"}}},
  {"data": {"name": "cCompD"}, "mark": {"type": "line", "color": "#ff0000", "strokeWidth": 2.5, "interpolate": "monotone"}, "encoding": {"detail": {"field": "c"}}},
  {"data": {"name": "cBase2"}, "mark": {"type": "rule", "color": "#ff0000", "strokeWidth": 3.5}, "encoding": {"x2": {"field": "x2"}}},
  {"data": {"name": "cDat"}, "mark": {"type": "line", "color": "#3a9a2a", "strokeWidth": 3, "strokeDash": [9, 6], "interpolate": "monotone"}},
  {"data": {"name": "cEnv"}, "mark": {"type": "line", "color": "#ff00ff", "strokeWidth": 1.2, "interpolate": "monotone"}},
  {"data": {"name": "cLbl"}, "mark": {"type": "text", "align": "center", "baseline": "middle", "font": "Liberation Sans", "fontSize": 36, "color": "black"}, "encoding": {"text": {"field": "t"}}},
  {"data": {"name": "cTag"}, "mark": {"type": "text", "align": "left", "baseline": "middle", "font": "Liberation Sans", "fontSize": 30, "color": "#222"}, "encoding": {"text": {"field": "t"}}}
 ]
 },
 {
 "width": 670, "height": 377,
 "view": {"stroke": "#b8b8b8", "strokeWidth": 2, "strokeDash": [8, 5]},
 "encoding": {
  "x": {"field": "x", "type": "quantitative", "scale": {"domain": [1612.1, 1728.4], "nice": false, "zero": false},
   "axis": {"values": [1620,1640,1660,1680,1700,1720], "format": "d", "domain": false, "ticks": false, "labelFlush": false, "offset": -88.7, "labelPadding": 32, "labelBaseline": "middle", "labelFont": "DejaVu Sans", "labelFontSize": 18, "labelColor": "#555",
    "title": "Raman shift (cm⁻¹)", "titleFont": "DejaVu Sans", "titleFontSize": 17, "titleFontWeight": "normal", "titleColor": "#333", "titleX": 335.2, "titleY": 61.7, "titleBaseline": "middle", "titleAlign": "center"}},
  "y": {"field": "y", "type": "quantitative", "scale": {"domain": [-88.7, 288.3], "nice": false, "zero": false},
   "axis": {"domain": false, "ticks": false, "labels": false, "title": "Raman Intensity (a.u.)", "titleFont": "Liberation Sans", "titleFontSize": 18, "titleFontWeight": "normal", "titleColor": "#444", "titleAngle": -90, "titleX": 31, "titleY": 169, "titleAlign": "center", "titleBaseline": "middle"}}
 },
 "layer": [
  {"data": {"name": "dBase"}, "mark": {"type": "rule", "color": "#bdbdbd", "strokeWidth": 2}, "encoding": {"x2": {"field": "x2"}}},
  {"data": {"name": "dBase2"}, "mark": {"type": "rule", "color": "#ff0000", "strokeWidth": 3}, "encoding": {"x2": {"field": "x2"}}},
  {"data": {"name": "dComp"}, "mark": {"type": "line", "color": "#ff0000", "strokeWidth": 2.5, "interpolate": "monotone"}, "encoding": {"detail": {"field": "c"}}},
  {"data": {"name": "dDat"}, "mark": {"type": "line", "color": "#ff0000", "strokeWidth": 3, "strokeDash": [9, 6], "interpolate": "monotone"}},
  {"data": {"name": "dEnv"}, "mark": {"type": "line", "color": "#ff00ff", "strokeWidth": 1.2, "interpolate": "monotone"}},
  {"data": {"name": "dLbl"}, "mark": {"type": "text", "align": "center", "baseline": "middle", "font": "Liberation Sans", "fontSize": 40, "color": "black"}, "encoding": {"text": {"field": "t"}}},
  {"data": {"name": "dTag"}, "mark": {"type": "text", "align": "left", "baseline": "middle", "font": "Liberation Sans", "fontSize": 30, "color": "#222"}, "encoding": {"text": {"field": "t"}}}
 ]
 }
],
"spacing": 46,
"bounds": "flush"
}
]
}
